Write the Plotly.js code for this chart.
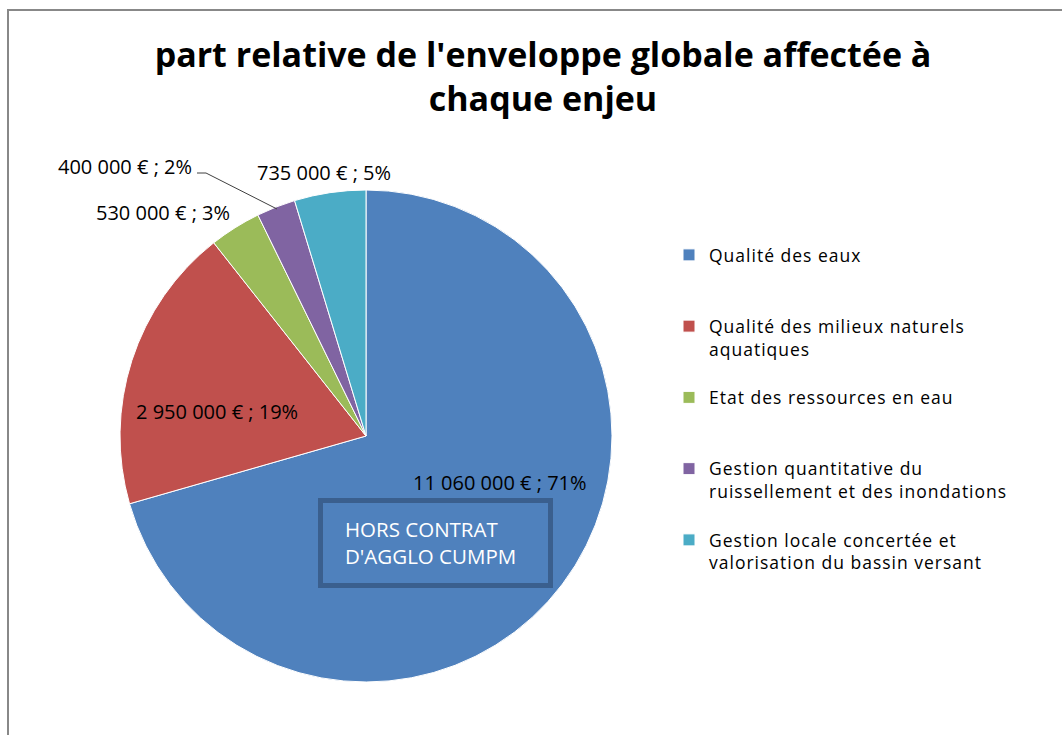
<!DOCTYPE html>
<html>
<head>
<meta charset="utf-8">
<script src="https://cdn.plot.ly/plotly-3.0.1.min.js"></script>
<style>
html,body{margin:0;padding:0;background:#fff;}
#chart{width:1062px;height:735px;}
#chart .legendtext{letter-spacing:1px;}
#chart .legend .scrollbox, #chart .legend{clip-path:none !important;}
</style>
</head>
<body>
<div id="chart"></div>
<script>
// ---- data ----
const categories = [
  "Qualité des eaux",
  "Qualité des milieux naturels<br>aquatiques",
  "Etat des ressources en eau",
  "Gestion quantitative du<br>ruissellement et des inondations",
  "Gestion locale concertée et<br>valorisation du bassin versant"
];
const values = [11060000, 2950000, 530000, 400000, 735000];
const percentLabels = ["71%", "19%", "3%", "2%", "5%"];
const colors = ["#4F81BD", "#C0504D", "#9BBB59", "#8064A2", "#4BACC6"];
const titleText = "part relative de l'enveloppe globale affectée à<br>chaque enjeu";
const boxText = "HORS CONTRAT<br>D'AGGLO CUMPM";

// ---- helpers ----
const W = 1062, H = 735;
const px = x => x / W;
const py = y => 1 - y / H;
function fmt(v) {
  return String(v).replace(/\B(?=(\d{3})+(?!\d))/g, "\u00a0") + "\u00a0€ ; ";
}
// make each legend entry 3 lines tall so entries are evenly spaced
const legendLabels = categories.map(c => {
  const n = c.split("<br>").length;
  return c + "<br>\u00a0".repeat(3 - n);
});

const FONT = "'Open Sans', Lato, sans-serif";

const trace = {
  type: "pie",
  labels: legendLabels,
  values: values,
  sort: false,
  direction: "clockwise",
  rotation: 0,
  textinfo: "none",
  hoverinfo: "label+value+percent",
  marker: { colors: colors, line: { color: "#ffffff", width: 1 } },
  domain: { x: [px(120), px(612)], y: [py(682), py(190)] }
};

// label positions (annotation anchors)
const labelPos = [
  [500, 482], [217, 411], [163, 212], [125, 166], [324, 172]
];
const annotations = values.map((v, i) => ({
  xref: "paper", yref: "paper",
  x: px(labelPos[i][0]), y: py(labelPos[i][1]),
  text: fmt(v) + percentLabels[i],
  showarrow: false,
  xanchor: "center", yanchor: "middle",
  font: { family: FONT, size: 20, color: "#000" }
}));
annotations.push({
  xref: "paper", yref: "paper",
  x: px(343), y: py(542.5),
  text: boxText, showarrow: false, align: "left",
  xanchor: "left", yanchor: "middle",
  font: { family: FONT, size: 20.5, color: "#ffffff" }
});

const layout = {
  width: W, height: H,
  margin: { l: 0, r: 0, t: 0, b: 0 },
  paper_bgcolor: "#ffffff",
  title: {
    text: titleText,
    x: px(543), xanchor: "center",
    y: py(66.5), yanchor: "middle", yref: "container",
    font: { family: FONT, size: 34, color: "#000", weight: "bold" }
  },
  showlegend: true,
  legend: {
    x: px(669), y: py(237), xanchor: "left", yanchor: "top",
    valign: "top",
    font: { family: FONT, size: 17.5, color: "#000" },
    bgcolor: "rgba(0,0,0,0)"
  },
  annotations: annotations,
  shapes: [
    { type: "rect", xref: "paper", yref: "paper",
      x0: px(8), x1: 1.05, y0: -0.05, y1: py(10),
      line: { color: "#888888", width: 2 }, fillcolor: "rgba(0,0,0,0)", layer: "below" },
    { type: "rect", xref: "paper", yref: "paper",
      x0: px(320.5), x1: px(550.5), y0: py(585.5), y1: py(500.5),
      line: { color: "#3A5F8E", width: 5 }, fillcolor: "#4F81BD" },
    { type: "line", xref: "paper", yref: "paper",
      x0: px(197), y0: py(173), x1: px(206), y1: py(173),
      line: { color: "#404040", width: 1 } },
    { type: "line", xref: "paper", yref: "paper",
      x0: px(206), y0: py(173), x1: px(277), y1: py(209),
      line: { color: "#404040", width: 1 } }
  ]
};

Plotly.newPlot("chart", [trace], layout, { displayModeBar: false, staticPlot: true });
</script>
</body>
</html>
